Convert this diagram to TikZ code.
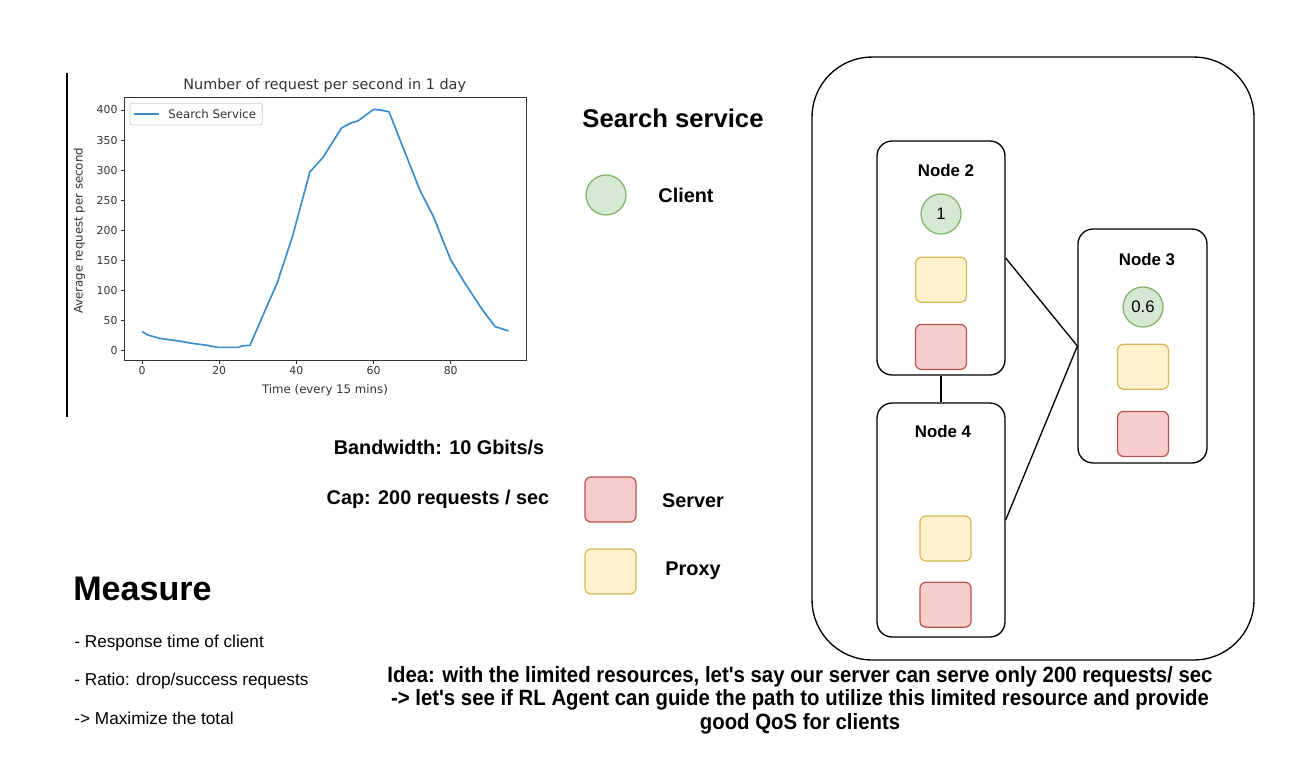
\documentclass[tikz,border=0pt]{standalone}
\usepackage{fontspec}
\setmainfont{Liberation Sans}
\newfontfamily\plotfont{DejaVu Sans}
\newfontfamily\narrowfont[FakeStretch=0.92]{Liberation Sans}
\usetikzlibrary{positioning}

\definecolor{clientfill}{HTML}{D5E8D4}
\definecolor{clientline}{HTML}{82B366}
\definecolor{proxyfill}{HTML}{FFF2CC}
\definecolor{proxyline}{HTML}{D6B656}
\definecolor{serverfill}{HTML}{F8CECC}
\definecolor{serverline}{HTML}{B85450}
\definecolor{plotblue}{HTML}{3A8CCB}
\definecolor{plotgray}{HTML}{333333}

\begin{document}
\begin{tikzpicture}[
  x=0.02cm, y=-0.02cm,
  font=\fontsize{11.3}{13.3}\selectfont,
  clientdot/.style={circle, draw=clientline, fill=clientfill, line width=0.7pt, minimum size=0.8cm, inner sep=0pt, font=\fontsize{9.5}{11}\selectfont},
  proxybox/.style={draw=proxyline, fill=proxyfill, line width=0.7pt, rounded corners=0.12cm, minimum width=1.02cm, minimum height=0.9cm, inner sep=0pt},
  serverbox/.style={draw=serverline, fill=serverfill, line width=0.7pt, rounded corners=0.12cm, minimum width=1.02cm, minimum height=0.9cm, inner sep=0pt},
  hostbox/.style={draw, line width=0.75pt, rounded corners=0.3cm, minimum width=2.56cm, minimum height=4.68cm, inner sep=0pt},
  hostlbl/.style={font=\bfseries\fontsize{9.6}{11}\selectfont},
  legendlbl/.style={font=\bfseries\fontsize{11.3}{13}\selectfont},
  link/.style={line width=0.75pt}
]
\useasboundingbox (0,0) rectangle (1290,775);

% chart
\draw[line width=0.6pt] (67,73) -- (67,417);
\begin{scope}[shift={(142,350.7)}, x=0.0772cm, y=0.012034cm, font=\plotfont\fontsize{6.2}{7}\selectfont]
  \draw[plotgray, line width=0.5pt] (-4.66,-15.5) rectangle (99.7,420.5);
  \foreach \t in {0,20,...,80}
    \draw[plotgray, line width=0.5pt] (\t,-15.5) -- ++(0,-6) node[below, inner sep=1.5pt, text=plotgray] (xt\t) {\t};
  \foreach \v in {0,50,...,400}
    \draw[plotgray, line width=0.5pt] (-4.66,\v) -- ++(-0.9,0) node[left, inner sep=1.5pt, text=plotgray] (yt\v) {\v};
  \draw[plotblue, line width=0.95pt, line join=round] plot coordinates {
    (0,31.6) (1.6,26) (4.6,20.5) (9,16.6) (13.3,12) (16.8,9) (19.8,5.5) (25,5.5)
    (25.8,7.8) (28,9) (31.9,67) (35,112) (39,190) (43.5,297) (47,322) (51.7,370)
    (54,378) (56,382) (60,401) (61.7,400) (64,397) (68.6,322) (72,267) (75.5,223)
    (80,151) (83.7,112) (88,70) (91.5,40) (95,33)};
\end{scope}
\node[font=\plotfont\fontsize{8.2}{10}\selectfont, text=plotgray] (title) at (324.7,86) {Number of request per second in 1 day};
\node[font=\plotfont\fontsize{6.7}{8}\selectfont, text=plotgray] (xlabel) at (325,390.7) {Time (every 15 mins)};
\node[font=\plotfont\fontsize{6.7}{8}\selectfont, text=plotgray, rotate=90] (ylabel) at (79.3,230.8) {Average request per second};
\draw[black!20, fill=white, rounded corners=1pt, line width=0.5pt] (130,103.3) rectangle (262.3,125);
\coordinate (legA) at (134,114.3);
\coordinate (legB) at (159.3,114.3);
\draw[plotblue, line width=0.95pt] (legA) -- (legB);
\node[font=\plotfont\fontsize{6.7}{8}\selectfont, text=plotgray, anchor=west, inner sep=0pt] (legtxt) at (168,114.3) {Search Service};

% legend
\node[font=\bfseries\fontsize{14.6}{17}\selectfont] (svc) at (673,118) {Search service};
\node[clientdot] (client) at (606,195) {};
\node[legendlbl] (clientlbl) at (686,195) {Client};
\node[legendlbl] (bw) at (439,447) {Bandwidth: 10 Gbits/s};
\node[legendlbl] (cap) at (438,499) {Cap: 200 requests / sec};
\node[serverbox] (server) at (610.5,499.5) {};
\node[legendlbl] (serverlbl) at (693,501) {Server};
\node[proxybox] (proxy) at (610.5,571.5) {};
\node[legendlbl] (proxylbl) at (693,571) {Proxy};

% measure
\node[font=\bfseries\fontsize{19.4}{22}\selectfont, anchor=west, inner sep=0pt] (measure) at (73,589) {Measure};
\node[font=\fontsize{9.8}{11}\selectfont, anchor=west, inner sep=0pt] (m1) at (74,643) {- Response time of client};
\node[font=\fontsize{9.8}{11}\selectfont, anchor=west, inner sep=0pt] (m2) at (74,681) {- Ratio: drop/success requests};
\node[font=\fontsize{9.8}{11}\selectfont, anchor=west, inner sep=0pt] (m3) at (74,718) {-> Maximize the total};

% cluster
\node[draw, line width=0.75pt, rounded corners=1.2cm, minimum width=8.84cm, minimum height=12.06cm] (cluster) at (1033,358.5) {};
\node[hostbox] (n2) at (941,258) {};
\node[hostbox] (n4) at (941,520) {};
\node[hostbox, minimum width=2.58cm] (n3) at (1142.5,346) {};
\node[hostlbl] (n2lbl) at (946,170) {Node 2};
\node[hostlbl] (n4lbl) at (943,431) {Node 4};
\node[hostlbl] (n3lbl) at (1147,259) {Node 3};

\node[clientdot] (c2) at (941,214) {1};
\node[proxybox, below=0.44cm of c2] (p2) {};
\node[serverbox, below=0.42cm of p2] (s2) {};
\node[proxybox] (p4) at (945.5,538.5) {};
\node[serverbox, below=0.4cm of p4] (s4) {};
\node[clientdot] (c3) at (1143,307) {0.6};
\node[proxybox, below=0.32cm of c3] (p3) {};
\node[serverbox, below=0.42cm of p3] (s3) {};

\draw[link] (n2.east) -- (n3.west);
\draw[link] (n4.east) -- (n3.west);
\draw[link] (n2.south) -- (n4.north);

% idea
\node[font=\narrowfont\bfseries\fontsize{12.6}{13.3}\selectfont, align=center] (idea) at (800,700) {Idea: with the limited resources, let's say our server can serve only 200 requests/ sec\\-> let's see if RL Agent can guide the path to utilize this limited resource and provide\\good QoS for clients};
\end{tikzpicture}
\end{document}
